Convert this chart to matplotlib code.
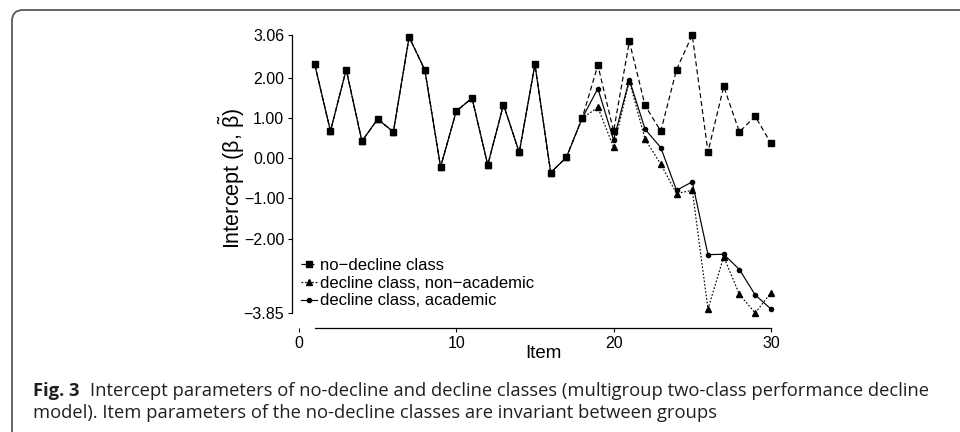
import matplotlib
matplotlib.use("Agg")
import matplotlib.pyplot as plt
from matplotlib.path import Path
from matplotlib.patches import PathPatch

# ---------------- data ----------------
items = list(range(1, 31))
common = [2.33, 0.67, 2.20, 0.42, 0.97, 0.65, 3.01, 2.19, -0.22, 1.17,
          1.49, -0.17, 1.33, 0.14, 2.33, -0.36, 0.02, 0.99]
no_decline = common + [2.31, 0.67, 2.90, 1.31, 0.67, 2.20, 3.06, 0.15,
                       1.78, 0.65, 1.04, 0.37]
decline_nonacad = common + [1.26, 0.27, 1.92, 0.47, -0.15, -0.88, -0.80,
                            -3.75, -2.45, -3.39, -3.85, -3.35]
decline_acad = common + [1.73, 0.45, 1.95, 0.72, 0.26, -0.80, -0.59,
                         -2.40, -2.39, -2.77, -3.40, -3.75]

series_labels = ["no\u2212decline class", "decline class, non\u2212academic",
                 "decline class, academic"]
y_ticks = [3.06, 2.00, 1.00, 0.00, -1.00, -2.00, -3.85]
y_tick_labels = ["3.06", "2.00", "1.00", "0.00", "\u22121.00", "\u22122.00", "\u22123.85"]
x_ticks = [0, 10, 20, 30]
x_label = "Item"
y_label = r"Intercept ($\mathrm{\beta}$, $\tilde{\mathrm{\beta}}$)"
caption_bold = "Fig. 3"
caption_line1 = "Intercept parameters of no-decline and decline classes (multigroup two-class performance decline"
caption_line2 = "model). Item parameters of the no-decline classes are invariant between groups"

# ---------------- figure ----------------
W, H = 960, 432
fig = plt.figure(figsize=(W / 100, H / 100), dpi=100)
plt.rcParams["font.family"] = ["Liberation Sans", "DejaVu Sans"]
plt.rcParams["mathtext.fontset"] = "custom"
plt.rcParams["mathtext.rm"] = "Liberation Sans"
plt.rcParams["mathtext.it"] = "Liberation Sans:italic"


def fx(px):
    return px / W


def fy(py):
    return 1 - py / H


# border (rounded top-left corner, open to right/bottom)
r = 11
verts = [(fx(12), fy(H + 5)), (fx(12), fy(10 + r)), (fx(12), fy(10)),
         (fx(12 + r), fy(10)), (fx(W + 5), fy(10))]
codes = [Path.MOVETO, Path.LINETO, Path.CURVE3, Path.CURVE3, Path.LINETO]
fig.patches.append(PathPatch(Path(verts, codes), transform=fig.transFigure,
                             fill=False, edgecolor="#5a5a5a", linewidth=1.3))

# axes placement
x0_px, xs = 299.0, 15.73
y0_px, ys = 158.1, 40.23
xlim = (-0.45, 30.6)
ylim = (-4.22, 3.2)
left = x0_px + xs * xlim[0]
right = x0_px + xs * xlim[1]
top = y0_px - ys * ylim[1]
bottom = y0_px - ys * ylim[0]
ax = fig.add_axes([fx(left), fy(bottom), (right - left) / W, (bottom - top) / H])
ax.set_xlim(*xlim)
ax.set_ylim(*ylim)

lw = 0.85
ax.plot(items, no_decline, color="black", lw=lw, ls=(0, (4.2, 2.6)),
        marker="s", ms=4.5, label=series_labels[0], zorder=2)
ax.plot(items, decline_nonacad, color="black", lw=lw, ls=(0, (1.4, 1.6)),
        marker="^", ms=3.7, label=series_labels[1], zorder=3)
ax.plot(items, decline_acad, color="black", lw=lw, ls="-",
        marker="o", ms=3.0, label=series_labels[2], zorder=4)

for s in ["top", "right"]:
    ax.spines[s].set_visible(False)
ax.spines["left"].set_bounds(y_ticks[-1], y_ticks[0])
ax.spines["bottom"].set_bounds(1, 30)
for s in ["left", "bottom"]:
    ax.spines[s].set_linewidth(0.9)

ax.set_yticks(y_ticks)
ax.set_yticklabels(y_tick_labels)
ax.set_xticks(x_ticks)
ax.set_xticklabels([str(t) for t in x_ticks])
ax.tick_params(axis="both", direction="out", length=3, width=0.8,
               labelsize=11.5, colors="black", pad=2.5)
ax.tick_params(axis="x", pad=3)

leg = ax.legend(loc="upper left", bbox_to_anchor=(fx(301), fy(258)),
                bbox_transform=fig.transFigure, frameon=False,
                fontsize=12.0, handlelength=0.95, handletextpad=0.22,
                labelspacing=0.16, borderpad=0, borderaxespad=0)

fig.text(fx(543), fy(354), x_label, ha="center", va="center", fontsize=13.5)
fig.text(fx(232), fy(178), y_label, ha="center", va="center", fontsize=15.5,
         rotation=90)

# caption
cap_font = ["Open Sans", "DejaVu Sans"]
cap_color = "#231f20"
fs = 13.2
tb = fig.text(fx(33), fy(391), caption_bold, ha="left", va="center",
              fontsize=fs, fontweight="bold", family=cap_font, color=cap_color)
fig.canvas.draw()
ren = fig.canvas.get_renderer()
bb = tb.get_window_extent(ren)
t1 = fig.text(fx(33) + (bb.width + 11) / W, fy(391), caption_line1, ha="left",
              va="center", fontsize=fs, family=cap_font, color=cap_color)
t2 = fig.text(fx(33), fy(413), caption_line2, ha="left", va="center",
              fontsize=fs, family=cap_font, color=cap_color)

fig.savefig("out.png", dpi=100)
